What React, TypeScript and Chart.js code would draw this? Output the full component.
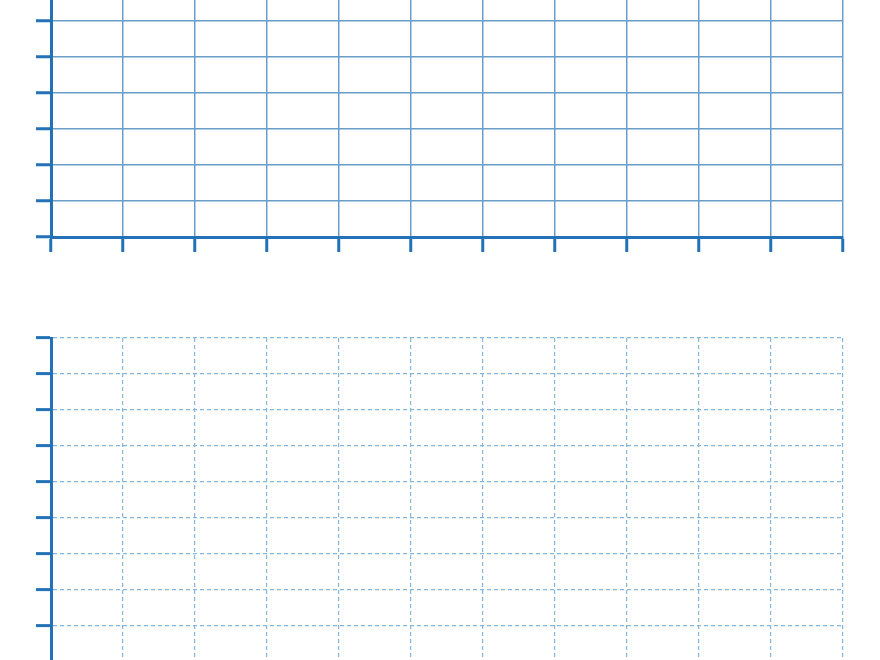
import React, { useEffect, useRef } from 'react';
import { Chart, registerables } from 'chart.js';

Chart.register(...registerables);

// grid positions along each axis (no labels are shown in the reference)
const columnTicks = [0, 1, 2, 3, 4, 5, 6, 7, 8, 9, 10, 11];
const rowTicks = [0, 1, 2, 3, 4, 5, 6, 7, 8, 9];

const AXIS_COLOR = '#2372b8';

interface GridPanelProps {
  top: number;
  height: number;
  padTop: number;
  padBottom: number;
  dashed?: boolean;
}

const GridPanel: React.FC<GridPanelProps> = ({ top, height, padTop, padBottom, dashed }) => {
  const canvasRef = useRef<HTMLCanvasElement>(null);
  const chartRef = useRef<Chart | null>(null);

  useEffect(() => {
    if (!canvasRef.current) return;
    if (chartRef.current) chartRef.current.destroy();

    const gridColor = dashed ? '#86b6dc' : '#6a9dca';
    const dash = dashed ? [4, 3] : [];

    const axisOpts = (ticks: number[]) => ({
      type: 'linear' as const,
      min: ticks[0],
      max: ticks[ticks.length - 1],
      afterBuildTicks: (axis: any) => {
        axis.ticks = ticks.map((v) => ({ value: v }));
      },
      ticks: { display: false },
      grid: {
        color: gridColor,
        lineWidth: dashed ? 1.2 : 1.5,
        drawTicks: true,
        tickLength: 15,
        tickWidth: 3,
        tickColor: AXIS_COLOR,
        tickBorderDash: [],
      },
      border: {
        display: true,
        color: AXIS_COLOR,
        width: 3,
        dash,
      },
    });

    chartRef.current = new Chart(canvasRef.current, {
      type: 'scatter',
      data: { datasets: [] },
      options: {
        responsive: false,
        animation: false,
        layout: { padding: { left: 36, right: 37, top: padTop, bottom: padBottom } },
        plugins: {
          legend: { display: false },
          tooltip: { enabled: false },
        },
        scales: {
          x: axisOpts(columnTicks),
          y: axisOpts(rowTicks),
        },
      },
    });

    return () => {
      if (chartRef.current) {
        chartRef.current.destroy();
        chartRef.current = null;
      }
    };
  }, [dashed, padTop, padBottom]);

  return (
    <canvas
      ref={canvasRef}
      width={880}
      height={height}
      style={{ position: 'absolute', left: 0, top, width: 880, height }}
    />
  );
};

export default function App() {
  return (
    <div
      style={{
        position: 'fixed',
        left: 0,
        top: 0,
        width: 880,
        height: 660,
        overflow: 'hidden',
        background: '#ffffff',
      }}
    >
      <GridPanel top={-100} height={370} padTop={13} padBottom={18} />
      <GridPanel top={320} height={400} padTop={18} padBottom={43} dashed />
    </div>
  );
}
